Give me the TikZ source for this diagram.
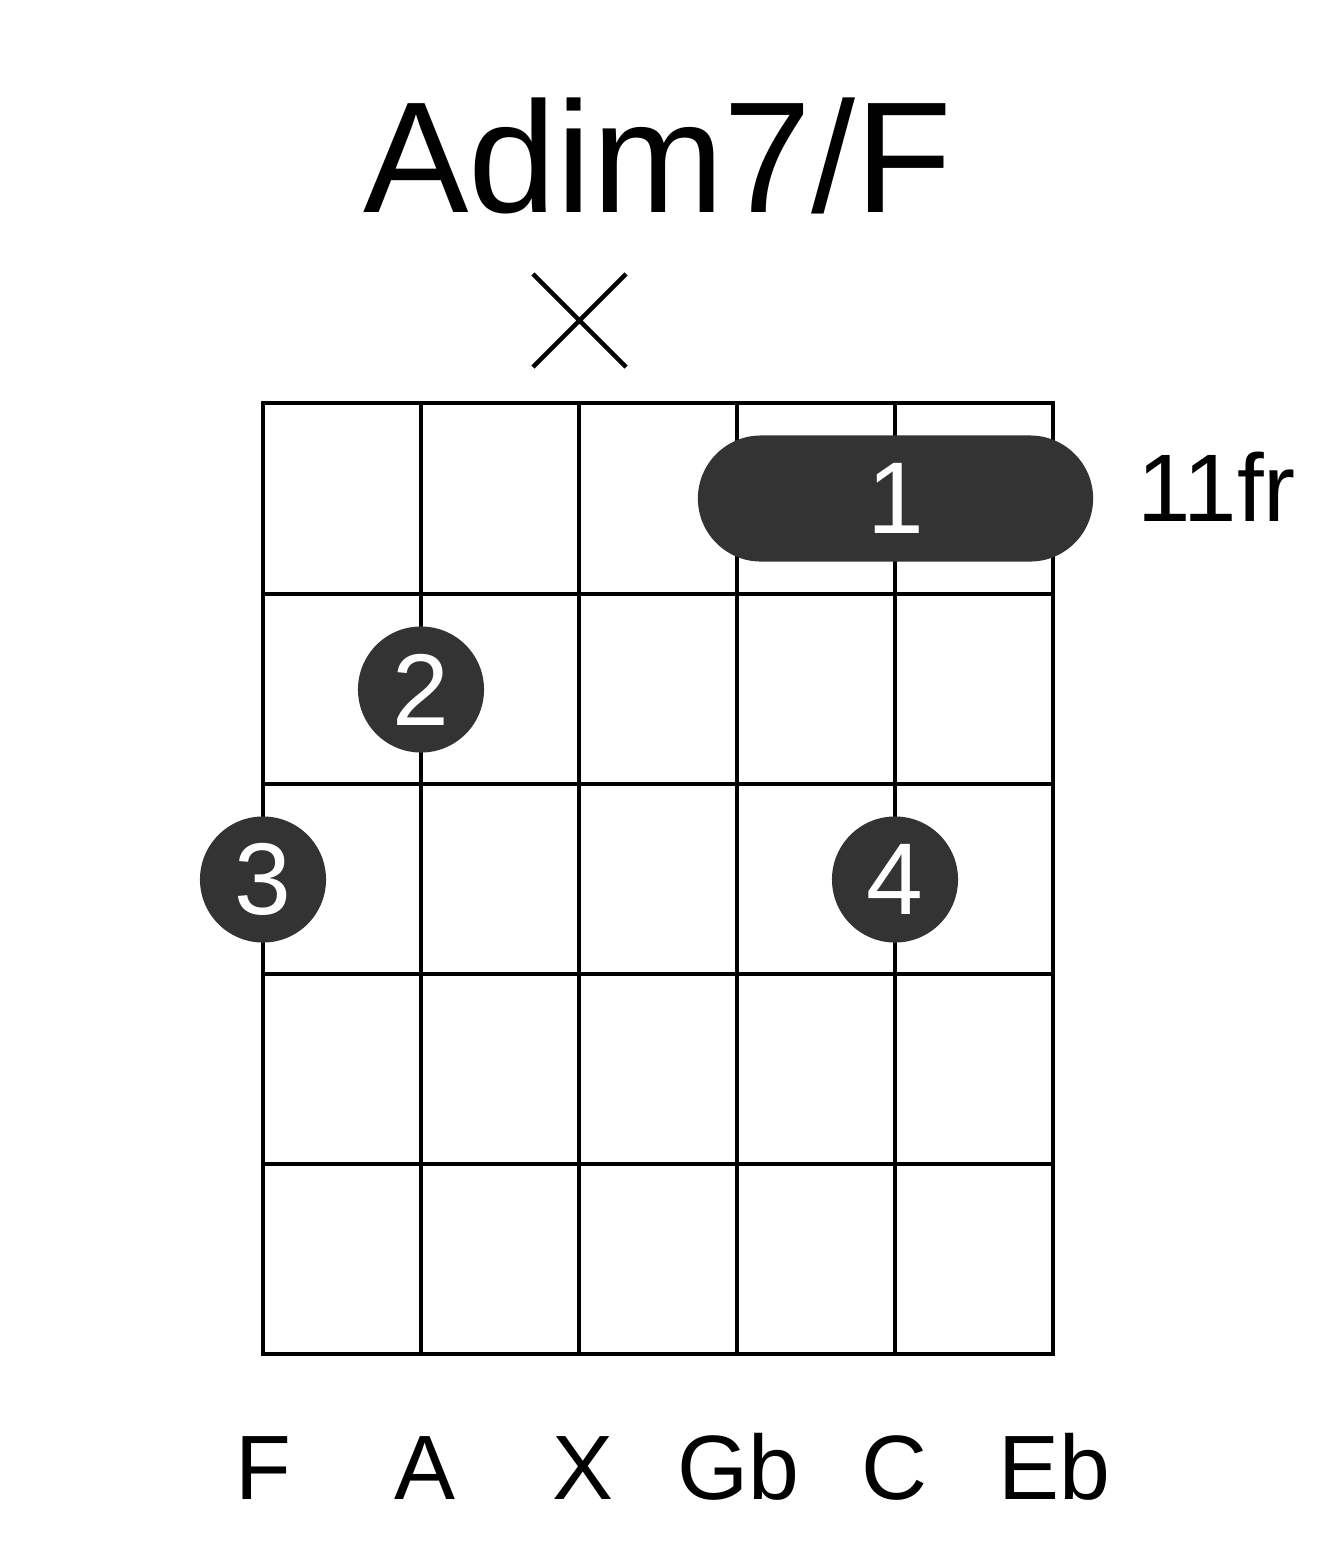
\documentclass[tikz,border=0pt]{standalone}
\usepackage{fontspec}
\setmainfont{Liberation Sans}
\usepackage{tikz}
\usetikzlibrary{shapes,arrows}
\definecolor{dotgray}{HTML}{333333}
\tikzset{
  gridline/.style={line width=0.045cm,color=black},
  finger/.style={circle,fill=dotgray,text=white,minimum size=1.26cm,inner sep=0pt,font=\fontsize{29}{29}\selectfont},
  barre/.style={rectangle,rounded corners=0.63cm,fill=dotgray,text=white,minimum width=3.95cm,minimum height=1.26cm,inner sep=0pt,font=\fontsize{29}{29}\selectfont},
  notename/.style={anchor=base,font=\fontsize{26}{26}\selectfont}
}
\begin{document}
\begin{tikzpicture}[line cap=rect,line join=miter,x=0.01cm,y=-0.01cm]
		\useasboundingbox (0,0) rectangle (1317,1551);
		\node[anchor=base,font=\fontsize{45}{45}\selectfont] (title) at (658,212) {Adim7/F};
		\node[draw,cross out,gridline,minimum size=0.9cm,inner sep=0pt,outer sep=0pt] (mute) at (579.5,320.5) {};
		\foreach \x in {263,421,579,737,895,1053}
		\draw[gridline] (\x,403) -- (\x,1354);
		\foreach \y in {403,594,784,974,1164,1354}
		\draw[gridline] (263,\y) -- (1053,\y);
		\node[barre] (bar) at (895.5,498.5) {1};
		\node[finger] (f2) at (421,689.5) {2};
		\node[finger] (f3) at (263,879.5) {3};
		\node[finger] (f4) at (895,879.5) {4};
		\node[anchor=base west,font=\fontsize{27.3}{27.3}\selectfont] (pos) at (1125,521) {11fr};
		\node[notename] (n1) at (263,1499) {F};
		\node[notename] (n2) at (425,1499) {A};
		\node[notename] (n3) at (583,1499) {X};
		\node[notename] (n4) at (738,1499) {Gb};
		\node[notename] (n5) at (895,1499) {C};
		\node[notename] (n6) at (1054,1499) {Eb};
		\end{tikzpicture}
\end{document}
